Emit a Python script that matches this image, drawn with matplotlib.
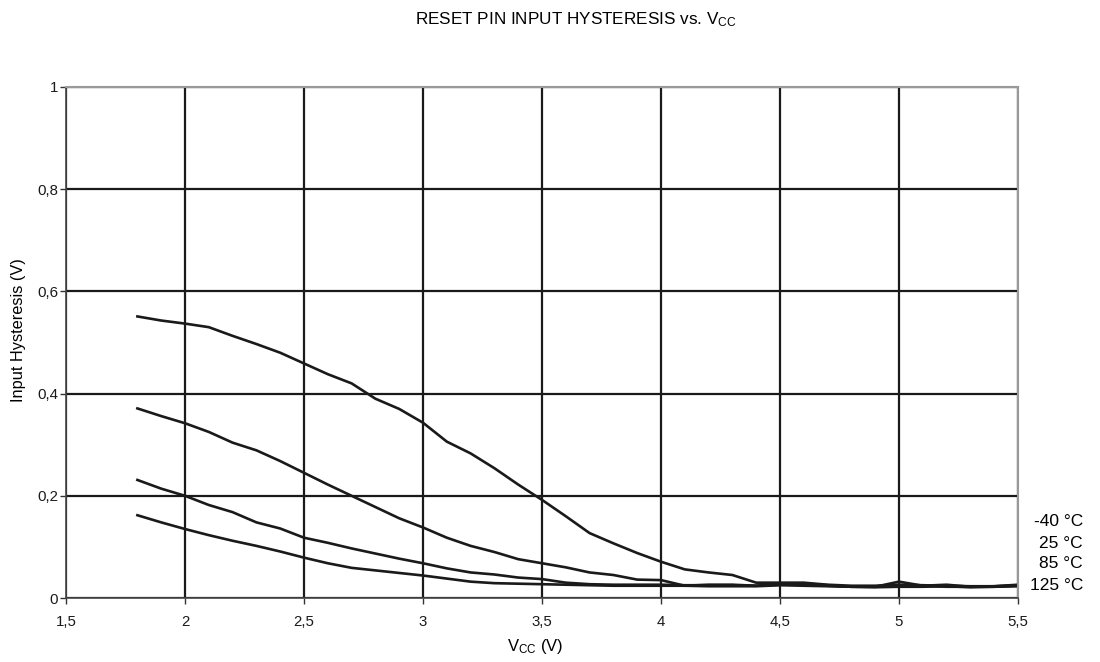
import matplotlib
matplotlib.use("Agg")
import matplotlib.pyplot as plt

plt.rcParams['font.family'] = ['Liberation Sans', 'DejaVu Sans']
plt.rcParams['mathtext.fontset'] = 'custom'
plt.rcParams['mathtext.rm'] = 'Liberation Sans'
plt.rcParams['mathtext.it'] = 'Liberation Sans'

# Data
vcc = [1.8, 1.9, 2.0, 2.1, 2.2, 2.3, 2.4, 2.5, 2.6, 2.7, 2.8, 2.9, 3.0, 3.1, 3.2,
       3.3, 3.4, 3.5, 3.6, 3.7, 3.8, 3.9, 4.0, 4.1, 4.2, 4.3, 4.4, 4.5, 4.6, 4.7,
       4.8, 4.9, 5.0, 5.1, 5.2, 5.3, 5.4, 5.5]
t_m40 = [0.551, 0.543, 0.537, 0.530, 0.513, 0.497, 0.480, 0.459, 0.438, 0.420, 0.390,
         0.370, 0.343, 0.306, 0.283, 0.254, 0.222, 0.192, 0.160, 0.127, 0.107, 0.088,
         0.071, 0.056, 0.050, 0.045, 0.030, 0.030, 0.030, 0.026, 0.024, 0.024, 0.026,
         0.025, 0.024, 0.023, 0.023, 0.025]
t_25 = [0.371, 0.356, 0.342, 0.325, 0.304, 0.289, 0.268, 0.245, 0.222, 0.200, 0.178,
        0.156, 0.138, 0.118, 0.102, 0.090, 0.076, 0.068, 0.060, 0.050, 0.045, 0.036,
        0.035, 0.024, 0.026, 0.026, 0.024, 0.026, 0.028, 0.025, 0.022, 0.022, 0.032,
        0.024, 0.026, 0.022, 0.023, 0.026]
t_85 = [0.231, 0.214, 0.200, 0.182, 0.168, 0.148, 0.136, 0.118, 0.108, 0.097, 0.087,
        0.077, 0.068, 0.058, 0.050, 0.046, 0.040, 0.037, 0.030, 0.027, 0.026, 0.026,
        0.026, 0.025, 0.025, 0.025, 0.024, 0.028, 0.026, 0.024, 0.022, 0.022, 0.024,
        0.024, 0.022, 0.022, 0.022, 0.024]
t_125 = [0.162, 0.148, 0.135, 0.123, 0.112, 0.102, 0.091, 0.079, 0.068, 0.059, 0.054,
         0.049, 0.044, 0.038, 0.032, 0.029, 0.028, 0.027, 0.026, 0.025, 0.024, 0.024,
         0.024, 0.024, 0.023, 0.023, 0.023, 0.025, 0.024, 0.023, 0.022, 0.021, 0.022,
         0.022, 0.023, 0.021, 0.022, 0.023]
series = [t_m40, t_25, t_85, t_125]
labels = ['-40 °C', '25 °C', '85 °C', '125 °C']
xticks = [1.5, 2, 2.5, 3, 3.5, 4, 4.5, 5, 5.5]
xticklabels = ['1,5', '2', '2,5', '3', '3,5', '4', '4,5', '5', '5,5']
yticks = [0, 0.2, 0.4, 0.6, 0.8, 1.0]
yticklabels = ['0', '0,2', '0,4', '0,6', '0,8', '1']

fig = plt.figure(figsize=(11, 6.62), dpi=100)
ax = fig.add_axes([66/1100, 1-598/662, (1018-66)/1100, (598-87)/662])

for s in series:
    ax.plot(vcc, s, color='#1a1a1a', lw=1.9, solid_joinstyle='round')

ax.set_xlim(1.5, 5.5)
ax.set_ylim(0, 1)
ax.set_xticks(xticks)
ax.set_xticklabels(xticklabels, fontsize=10.8)
ax.set_yticks(yticks)
ax.set_yticklabels(yticklabels, fontsize=10.8)
ax.tick_params(direction='out', length=4, width=1, color='#333333', labelcolor='#1a1a1a')
ax.tick_params(axis='x', pad=8)
ax.tick_params(axis='y', pad=1.5)
ax.grid(True, color='#1a1a1a', lw=1.6, zorder=0)
ax.set_axisbelow(True)
for side in ['left', 'bottom']:
    ax.spines[side].set_color('#444444')
    ax.spines[side].set_linewidth(1.2)
for side in ['top', 'right']:
    ax.spines[side].set_color('#999999')
    ax.spines[side].set_linewidth(1.5)

fig.text(535/1100, 1-646/662, r'V$_{\mathrm{CC}}$ (V)', ha='center', va='center', fontsize=12)
fig.text(19/1100, 1-330/662, 'Input Hysteresis (V)', ha='center', va='center',
         rotation=90, fontsize=11.8)

fig.text(576/1100, 1-20/662, r'RESET PIN INPUT HYSTERESIS vs. V$_{\mathrm{CC}}$',
         ha='center', va='center', fontsize=12.3)

label_y = [521, 543, 564, 585]
for lab, yp in zip(labels, label_y):
    fig.text(1083/1100, 1-yp/662, lab, ha='right', va='center', fontsize=12.5)

fig.savefig('out.png', dpi=100)
